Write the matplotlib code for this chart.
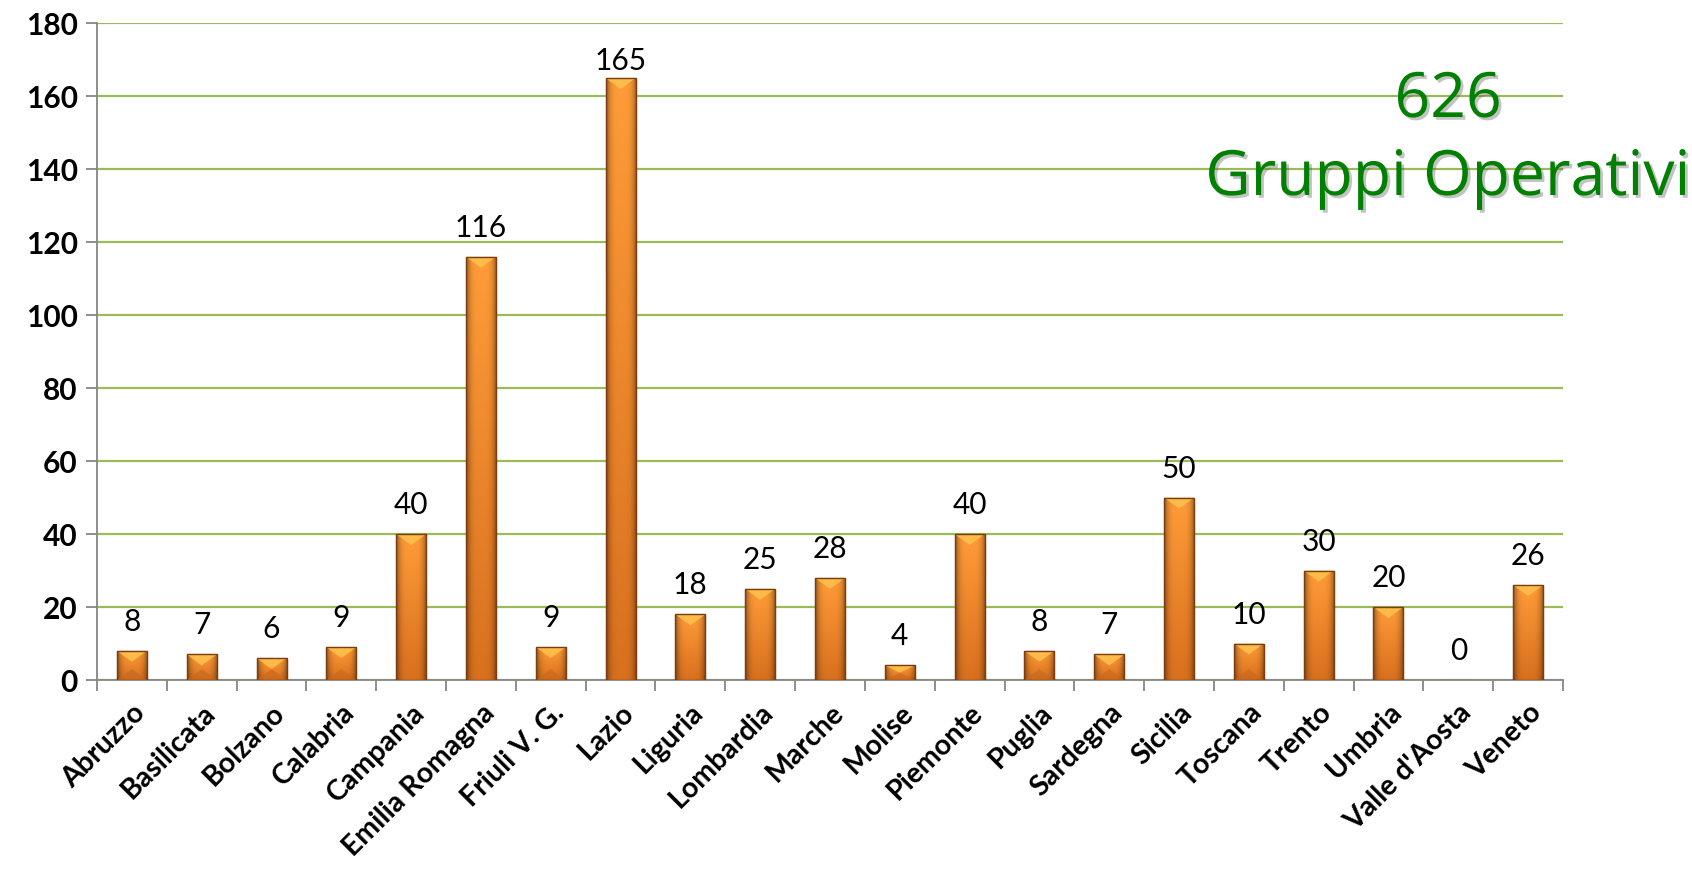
import numpy as np
import matplotlib
matplotlib.use("Agg")
import matplotlib.pyplot as plt
from matplotlib import patheffects as pe
from matplotlib.colors import to_rgb

regions = ["Abruzzo", "Basilicata", "Bolzano", "Calabria", "Campania",
           "Emilia Romagna", "Friuli V. G.", "Lazio", "Liguria", "Lombardia",
           "Marche", "Molise", "Piemonte", "Puglia", "Sardegna", "Sicilia",
           "Toscana", "Trento", "Umbria", "Valle d'Aosta", "Veneto"]
values = [8, 7, 6, 9, 40, 116, 9, 165, 18, 25, 28, 4, 40, 8, 7, 50, 10, 30, 20, 0, 26]
yticks = [0, 20, 40, 60, 80, 100, 120, 140, 160, 180]
total_label = "626"
title_label = "Gruppi Operativi"

W, H = 1692, 872
fig = plt.figure(figsize=(W / 100, H / 100), dpi=100)
ax = fig.add_axes([97 / W, 1 - 680 / H, (1563 - 97) / W, (680 - 23.3) / H])

x = np.arange(len(regions))
bw = 0.43
bars = ax.bar(x, values, width=bw, color="#F28A2A", edgecolor="#8A4A16",
              linewidth=0.8, zorder=3)

# gradient fill clipped to each bar
ny, nx = 64, 32
hx = np.linspace(-1, 1, nx)
prof = 1 - 0.45 * np.abs(hx) ** 4
vy = np.linspace(0, 1, ny)[:, None]  # 0 bottom -> 1 top
top_c = np.array(to_rgb("#FF9C38"))
bot_c = np.array(to_rgb("#D8701E"))
base = bot_c[None, None, :] * (1 - vy[..., None]) + top_c[None, None, :] * vy[..., None]
img = base * prof[None, :, None]
img = np.clip(img, 0, 1)

px_per_unit = (680 - 23.3) / 180.0
bevel = 11 / px_per_unit
for xi, v, b in zip(x, values, bars):
    if v <= 0:
        continue
    im = ax.imshow(img, extent=[xi - bw / 2, xi + bw / 2, 0, v], origin="lower",
                   aspect="auto", zorder=3.5, interpolation="bilinear")
    im.set_clip_path(b)
    d = min(bevel, v / 2)
    tri = plt.Polygon([[xi - bw / 2, v], [xi + bw / 2, v], [xi, v - d]],
                      closed=True, facecolor="#FFC24E", edgecolor="none",
                      alpha=0.85, zorder=3.6)
    ax.add_patch(tri)
    if v < 15:
        tri2 = plt.Polygon([[xi - bw / 2, 0], [xi + bw / 2, 0], [xi, d]],
                           closed=True, facecolor="#C8661C", edgecolor="none",
                           alpha=0.6, zorder=3.6)
        ax.add_patch(tri2)
    ax.add_patch(plt.Rectangle((xi - bw / 2, 0), bw, v, fill=False,
                               edgecolor="#7A3E12", linewidth=1.0, zorder=3.7))

# data labels: baseline ~20 px above the bar, kept inside the plot area
label_gap = 20 / px_per_unit
label_max = 180 - (70 - 23.3) / px_per_unit
for xi, v in zip(x, values):
    ax.text(xi, min(v + label_gap, label_max), str(v),
            ha="center", va="baseline", fontsize=21.5, family="Lato",
            color="black", zorder=5)

ax.set_xlim(-0.5, len(regions) - 0.5)
ax.set_ylim(0, 180)
ax.set_yticks(yticks)
ax.set_yticklabels([str(t) for t in yticks], fontsize=21.5, fontweight="bold",
                   family="Lato")
ax.yaxis.grid(True, color="#9BBB59", linewidth=1.6, zorder=0)
ax.set_axisbelow(True)

ax.set_xticks(x)
ax.set_xticklabels(regions, rotation=45, ha="right", rotation_mode="anchor",
                   fontsize=20.5, fontweight="bold", family="Lato")
ax.set_xticks(np.arange(-0.5, len(regions)), minor=True)
ax.tick_params(axis="x", which="major", length=0, pad=14)
ax.tick_params(axis="x", which="minor", length=8, width=1.3, color="#868686")
ax.tick_params(axis="y", length=8, width=1.3, color="#868686", pad=6)

for s in ["top", "right"]:
    ax.spines[s].set_visible(False)
for s in ["left", "bottom"]:
    ax.spines[s].set_color("#868686")
    ax.spines[s].set_linewidth(1.3)

shadow = [pe.withSimplePatchShadow(offset=(2, -2), shadow_rgbFace="#555555", alpha=0.35)]
fig.text(1448 / W, 1 - 117 / H, total_label, ha="center", va="baseline",
         fontsize=45, color="#008000", family="Open Sans", path_effects=shadow)
fig.text(1448 / W, 1 - 195 / H, title_label, ha="center", va="baseline",
         fontsize=45, color="#008000", family="Open Sans", path_effects=shadow)

fig.savefig("out.png", dpi=100)
